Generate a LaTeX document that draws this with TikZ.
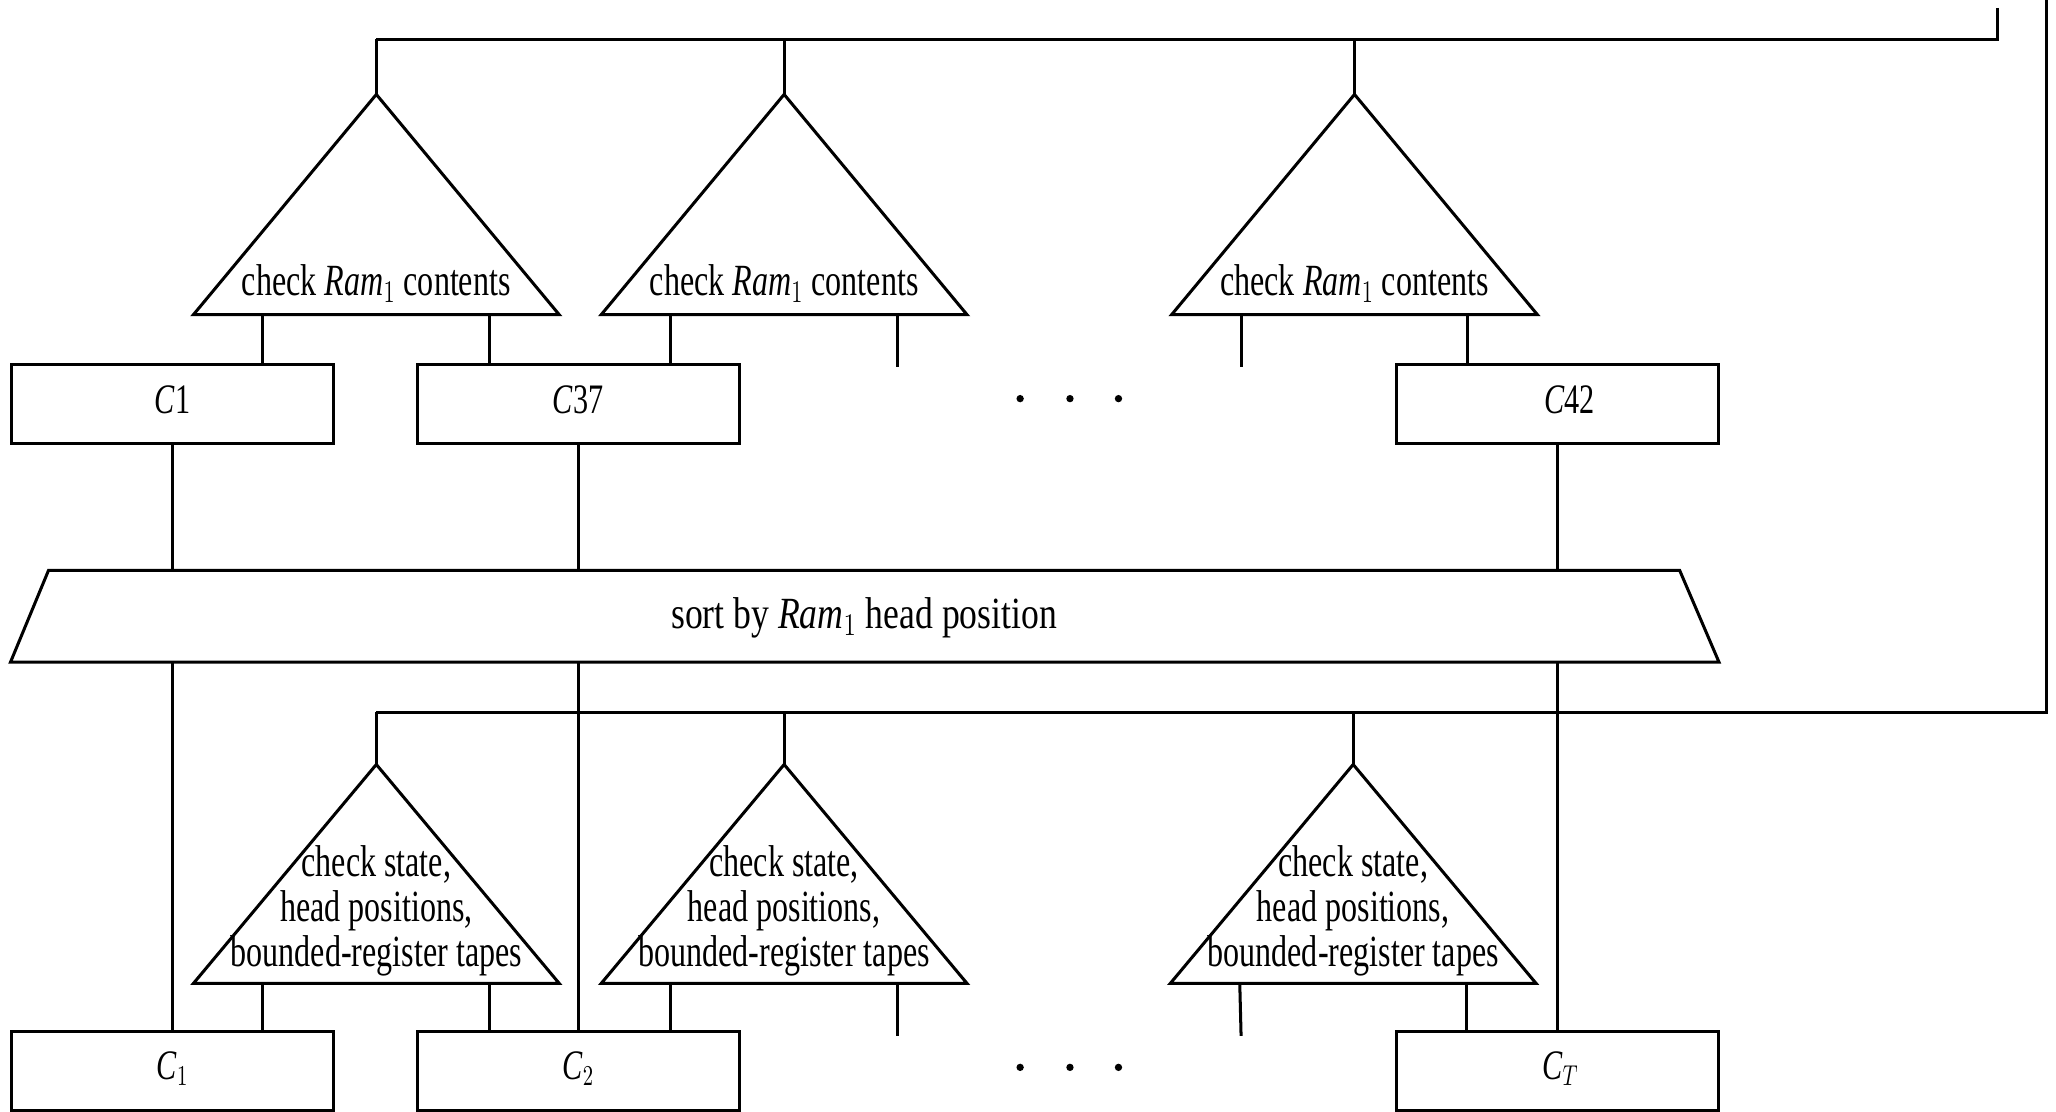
\documentclass[tikz,border=0pt]{standalone}
\usepackage{fontspec}
\setmainfont{Liberation Serif}
\usepackage{graphicx}
% condensed, tall lettering used for every label
\newcommand\narrowtext[1]{\scalebox{0.72}[1]{#1}}
\newcommand\ram{\textit{Ram}$_1$}
\tikzset{
  wire/.style={line width=1.15pt, black},
  shp/.style={draw, line width=1.15pt, line join=miter},
  cbox/.style={draw, line width=1.15pt, minimum width=122.75pt, minimum height=30pt, inner sep=0pt},
  clbl/.style={inner sep=0pt, font=\fontsize{16}{16}\selectfont},
  lbl/.style={inner sep=0pt, align=center, font=\fontsize{17}{17}\selectfont},
  elldot/.style={circle, fill=black, inner sep=0pt, minimum size=2.8pt},
}
\begin{document}
\begin{tikzpicture}[x=0.5pt, y=-0.5pt]
\useasboundingbox (0,0) rectangle (1568,848);

% ---- configuration boxes ----
\node[cbox] (u1) at (131.5,308) {};
\node[cbox] (u2) at (441,308)   {};
\node[cbox] (u3) at (1188,308)  {};
\node[cbox] (l1) at (131.5,817) {};
\node[cbox] (l2) at (441,817)   {};
\node[cbox] (l3) at (1188,817)  {};
\node[clbl] (u1t) at (131.5,305) {\narrowtext{\textit{C}1}};
\node[clbl] (u2t) at (441,305)   {\narrowtext{\textit{C}37}};
\node[clbl] (u3t) at (1197,305)  {\narrowtext{\textit{C}42}};
\node[clbl] (l1t) at (131.5,815) {\narrowtext{\textit{C}$_1$}};
\node[clbl] (l2t) at (441,815)   {\narrowtext{\textit{C}$_2$}};
\node[clbl] (l3t) at (1190,815)  {\narrowtext{\textit{C}$_T$}};

% ellipses between the boxes
\foreach \r/\y in {u/304, l/814} {
  \node[elldot] (\r d1) at (778,\y) {};
  \node[elldot] (\r d2) at (816,\y) {};
  \node[elldot] (\r d3) at (853,\y) {};
}

% ---- upper checkers: check Ram_1 contents ----
\foreach \n/\x in {a/287, b/598, c/1033} {
  \coordinate (apx\n) at (\x,72);
  \coordinate (bus\n) at (\x,30);
  \coordinate (legL\n) at ({\x-86.5},240);
  \coordinate (legR\n) at ({\x+86.5},240);
  \draw[shp] (apx\n) -- ({\x+139.5},240) -- ({\x-139.5},240) -- cycle;
  \node[lbl] (chk\n) at (\x,216) {\narrowtext{check \ram{} contents}};
  \draw[wire] (bus\n) -- (apx\n);
}
\coordinate (feedT) at (1523,6);
\draw[wire] (feedT) -- (feedT |- busa) -- (busa);

\draw[wire] (legLa) -- (legLa |- u1.north);
\draw[wire] (legRa) -- (legRa |- u2.north);
\draw[wire] (legLb) -- (legLb |- u2.north);
\coordinate (openb) at (684.5,280);
\draw[wire] (legRb) -- (openb);
\coordinate (openc) at (946.5,280);
\draw[wire] (legLc) -- (openc);
\draw[wire] (legRc) -- (legRc |- u3.north);

% ---- sorter ----
\coordinate (srtT) at (659,435);
\coordinate (srtB) at (659,505);
\draw[shp] (37,435) -- (1281,435) -- (1311,505) -- (8,505) -- cycle;
\node[lbl] (srt) at (659,471) {\scalebox{0.8}[1]{sort by \ram{} head position}};

\draw[wire] (u1.south) -- (u1.south |- srtT);
\draw[wire] (u2.south) -- (u2.south |- srtT);
\draw[wire] (u3.south) -- (u3.south |- srtT);
\draw[wire] (u1.south |- srtB) -- (l1.north);
\draw[wire] (u2.south |- srtB) -- (l2.north);
\draw[wire] (u3.south |- srtB) -- (l3.north);

% ---- lower checkers: state, heads, bounded-register tapes ----
\foreach \n/\x in {a/287, b/598, c/1032} {
  \coordinate (lapx\n) at (\x,583);
  \coordinate (lbus\n) at (\x,543);
  \coordinate (llegL\n) at ({\x-86.5},750);
  \coordinate (llegR\n) at ({\x+86.5},750);
  \draw[shp] (lapx\n) -- ({\x+139.5},750) -- ({\x-139.5},750) -- cycle;
  \node[lbl] (st\n) at (\x,696) {\narrowtext{\begin{tabular}{@{}c@{}}check state,\\head positions,\\bounded-register tapes\end{tabular}}};
  \draw[wire] (lbus\n) -- (lapx\n);
}
\coordinate (feedR) at (1561,0);
\draw[wire] (feedR) -- (feedR |- lbusa) -- (lbusa);

\draw[wire] (llegLa) -- (llegLa |- l1.north);
\draw[wire] (llegRa) -- (llegRa |- l2.north);
\draw[wire] (llegLb) -- (llegLb |- l2.north);
\coordinate (lopenb) at (684.5,790);
\draw[wire] (llegRb) -- (lopenb);
\coordinate (lopenc) at (946.5,790);
\draw[wire] (llegLc) -- (lopenc);
\draw[wire] (llegRc) -- (llegRc |- l3.north);
\end{tikzpicture}
\end{document}
